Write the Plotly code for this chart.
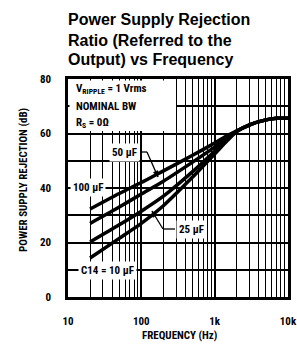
import math
import plotly.graph_objects as go

# ---- data ----
freq_hz = [20, 50, 100, 200, 500, 1000, 1500, 2000, 3000, 5000, 7000, 10000]
psrr_100uF = [32.3, 38.0, 42.0, 46.3, 52.0, 56.5, 59.3, 61.0, 63.2, 65.0, 65.6, 65.6]
psrr_50uF = [27.0, 33.0, 37.8, 42.5, 49.5, 55.0, 58.6, 60.9, 63.2, 65.0, 65.6, 65.6]
psrr_25uF = [20.2, 26.5, 31.5, 37.0, 46.0, 53.5, 58.0, 60.8, 63.2, 65.0, 65.6, 65.6]
psrr_10uF = [14.3, 21.5, 27.0, 33.5, 44.0, 52.5, 57.5, 60.7, 63.2, 65.0, 65.6, 65.6]

x_tickvals = [10, 100, 1000, 10000]
x_ticktext = ["10", "100", "1k", "10k"]
x_minor = [20, 30, 40, 50, 60, 70, 80, 90,
           200, 300, 400, 500, 600, 700, 800, 900,
           2000, 3000, 4000, 5000, 6000, 7000, 8000, 9000]
y_tickvals = [0, 20, 40, 60, 80]
y_minor = [10, 30, 50, 70]

NARROW = "Liberation Sans Narrow, Arial Narrow, Roboto Condensed, Liberation Sans, sans-serif"
SANS = "Liberation Sans, Arial, Helvetica, sans-serif"

W, H = 297, 346
L, R, T, B = 68, 9, 79, 49
PW, PH = W - L - R, H - T - B


def px(xp):
    return (xp - L) / PW


def py(yp):
    return (H - B - yp) / PH


fig = go.Figure()
for ys in [psrr_100uF, psrr_50uF, psrr_25uF, psrr_10uF]:
    fig.add_trace(go.Scatter(x=freq_hz, y=ys, mode="lines",
                             line=dict(color="black", width=3.5, shape="spline", smoothing=0.6),
                             showlegend=False, hoverinfo="skip"))

fig.update_layout(
    width=W, height=H,
    margin=dict(l=L, r=R, t=T, b=B, autoexpand=False),
    paper_bgcolor="white", plot_bgcolor="white",
)

fig.update_xaxes(type="log", range=[1, 4],
                 tickvals=x_tickvals, ticktext=x_ticktext,
                 showgrid=True, gridcolor="black", gridwidth=1.5,
                 minor=dict(tickvals=x_minor, showgrid=True, gridcolor="black", gridwidth=1.3),
                 showline=True, linecolor="black", linewidth=2.5, mirror=True,
                 ticks="", ticklabelstandoff=12,
                 tickfont=dict(family=NARROW, size=11, color="black", weight="bold"),
                 zeroline=False)
fig.update_yaxes(range=[0, 80],
                 tickvals=y_tickvals,
                 showgrid=True, gridcolor="black", gridwidth=1.5,
                 minor=dict(tickvals=y_minor, showgrid=True, gridcolor="black", gridwidth=1.5),
                 showline=True, linecolor="black", linewidth=2.5, mirror=True,
                 ticks="", ticklabelstandoff=12,
                 tickfont=dict(family=NARROW, size=11, color="black", weight="bold"),
                 zeroline=False)

# white area behind condition text (grid hidden there); no curve passes here
fig.add_shape(type="rect", xref="paper", yref="paper",
              x0=px(69.5), x1=px(176), y0=py(131), y1=py(80.5),
              fillcolor="white", line=dict(width=0), layer="above")

tf = dict(family=NARROW, size=11, color="black", weight="bold")
ann = []
# title
for txt, yc in [("Power Supply Rejection", 20), ("Ratio (Referred to the", 40),
                ("Output) vs Frequency", 60)]:
    ann.append(dict(text="<b>" + txt + "</b>", xref="paper", yref="paper",
                    x=px(66), y=py(yc), xanchor="left", yanchor="middle", showarrow=False,
                    font=dict(family=SANS, size=16, color="black")))
# conditions
for txt, yc in [("V<sub>RIPPLE</sub> = 1 Vrms", 89), ("NOMINAL BW", 106), ("R<sub>S</sub> = 0Ω", 123)]:
    ann.append(dict(text=txt, xref="paper", yref="paper", x=px(74), y=py(yc),
                    xanchor="left", yanchor="middle", showarrow=False, font=tf))
# curve labels
for txt, xc, yc in [("50 µF", 124, 152), ("100 µF", 88, 187),
                    ("25 µF", 191, 229), ("C14 = 10 µF", 107, 270)]:
    ann.append(dict(text=txt, xref="paper", yref="paper", x=px(xc), y=py(yc),
                    xanchor="center", yanchor="middle", showarrow=False, font=tf,
                    bgcolor="white", borderpad=2))
# axis titles
ann.append(dict(text="POWER SUPPLY REJECTION (dB)", xref="paper", yref="paper",
                x=px(23), y=py(180), textangle=-90, showarrow=False,
                xanchor="center", yanchor="middle", font=tf))
ann.append(dict(text="FREQUENCY (Hz)", xref="paper", yref="paper",
                x=px(179), y=py(335), showarrow=False,
                xanchor="center", yanchor="middle", font=tf))
fig.update_layout(annotations=ann)

# leader lines with elbows and arrowheads (pixel geometry of the callouts)
leaders = [((140, 152), (147, 152), (158, 177)),
           ((175, 229), (163, 229), (152, 211))]
for p0, p1, p2 in leaders:
    for a, b in [(p0, p1), (p1, p2)]:
        fig.add_shape(type="line", xref="paper", yref="paper",
                      x0=px(a[0]), x1=px(b[0]), y0=py(a[1]), y1=py(b[1]),
                      line=dict(color="black", width=1.3), layer="above")
    dx, dy = p2[0] - p1[0], p2[1] - p1[1]
    n = math.hypot(dx, dy)
    ux, uy = dx / n, dy / n
    bx, by = p2[0] - 6 * ux, p2[1] - 6 * uy
    qx, qy = -uy * 2.5, ux * 2.5
    pts = [(p2[0], p2[1]), (bx + qx, by + qy), (bx - qx, by - qy)]
    path = "M " + " L ".join(f"{px(x):.5f},{py(y):.5f}" for x, y in pts) + " Z"
    fig.add_shape(type="path", xref="paper", yref="paper", path=path,
                  fillcolor="black", line=dict(color="black", width=0.5), layer="above")

fig.write_html("out.html", config={"displayModeBar": False},
               post_script="document.body.style.margin='0';")
